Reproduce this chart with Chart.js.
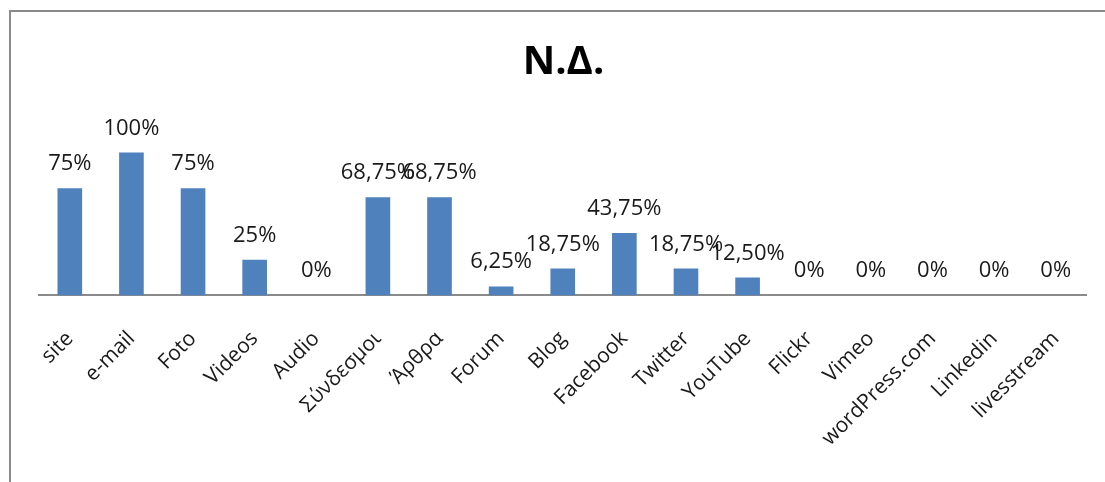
<!DOCTYPE html>
<html>
<head>
<meta charset="utf-8">
<script src="https://cdn.jsdelivr.net/npm/chart.js@4.4.7/dist/chart.umd.min.js"></script>
<style>
  html, body { margin: 0; padding: 0; background: #fff; }
  #frame {
    position: absolute; left: 9px; top: 10px; width: 1100px; height: 480px;
    border-left: 2px solid #8a8a8a; border-top: 2px solid #8a8a8a;
  }
  #wrap { position: absolute; left: 0; top: 0; width: 1105px; height: 482px; }
</style>
</head>
<body>
<div id="frame"></div>
<div id="wrap"><canvas id="chart"></canvas></div>
<script>
const categories = ['site', 'e-mail', 'Foto', 'Videos', 'Audio', 'Σύνδεσμοι', 'Άρθρα', 'Forum', 'Blog',
  'Facebook', 'Twitter', 'YouTube', 'Flickr', 'Vimeo', 'wordPress.com', 'Linkedin', 'livesstream'];
const shares = [0.75, 1, 0.75, 0.25, 0, 0.6875, 0.6875, 0.0625, 0.1875,
  0.4375, 0.1875, 0.125, 0, 0, 0, 0, 0];
const chartTitle = 'Ν.Δ.';

function pct(v) {
  const p = v * 100;
  if (Number.isInteger(p)) return p + '%';
  return p.toFixed(2).replace('.', ',') + '%';
}

const valueLabels = {
  id: 'valueLabels',
  afterDatasetsDraw(chart) {
    const ctx = chart.ctx;
    const meta = chart.getDatasetMeta(0);
    ctx.save();
    ctx.font = '22px "Open Sans"';
    ctx.fillStyle = '#1a1a1a';
    ctx.textAlign = 'center';
    ctx.textBaseline = 'alphabetic';
    meta.data.forEach((bar, i) => {
      ctx.fillText(pct(shares[i]), bar.x, bar.y - 18);
    });
    ctx.restore();
  }
};

new Chart(document.getElementById('chart'), {
  type: 'bar',
  data: {
    labels: categories,
    datasets: [{
      data: shares,
      backgroundColor: '#4f81bd',
      borderWidth: 0,
      categoryPercentage: 1,
      barPercentage: 0.4
    }]
  },
  options: {
    responsive: true,
    maintainAspectRatio: false,
    animation: false,
    layout: { padding: { left: 39, right: 17, top: 0, bottom: 0 } },
    plugins: {
      legend: { display: false },
      tooltip: { enabled: false },
      title: {
        display: true,
        text: chartTitle,
        color: '#000',
        font: { family: 'Open Sans', size: 40, weight: 'bold' },
        padding: { top: 39, bottom: 37 }
      }
    },
    scales: {
      y: { display: false, min: 0, max: 1.2 },
      x: {
        grid: { display: false, drawTicks: false },
        border: { display: true, color: '#8a8a8a', width: 2 },
        ticks: {
          color: '#1a1a1a',
          font: { family: 'Open Sans', size: 21 },
          minRotation: 45,
          maxRotation: 45,
          padding: 31,
          autoSkip: false
        }
      }
    }
  },
  plugins: [valueLabels]
});
</script>
</body>
</html>
